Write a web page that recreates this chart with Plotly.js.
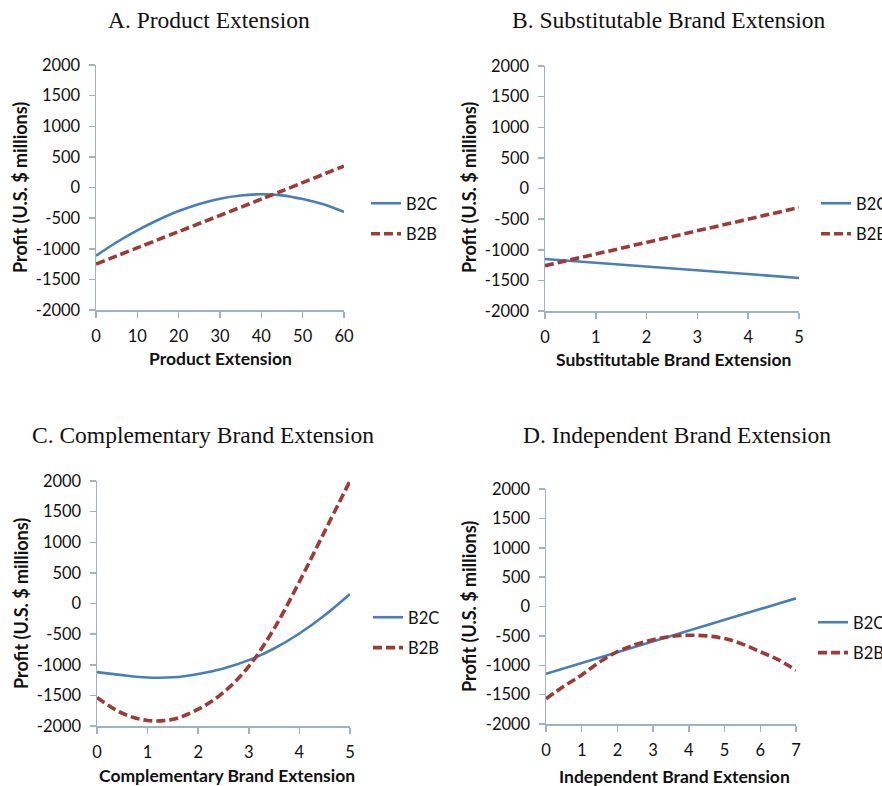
<!DOCTYPE html>
<html>
<head>
<meta charset="utf-8">
<script src="https://cdn.plot.ly/plotly-3.0.1.min.js"></script>
<style>html,body{margin:0;padding:0;background:#fff;} #chart{width:882px;height:786px;}</style>
</head>
<body>
<div id="chart"></div>
<script>
// ---- data ----
const seriesNames = ["B2C", "B2B"];
const panelTitles = ["A. Product Extension", "B. Substitutable Brand Extension",
                     "C. Complementary Brand Extension", "D. Independent Brand Extension"];
const xTitles = ["Product Extension", "Substitutable Brand Extension",
                 "Complementary Brand Extension", "Independent Brand Extension"];
const yTitle = "Profit (U.S. $ millions)";

const yTickVals = [-2000, -1500, -1000, -500, 0, 500, 1000, 1500, 2000];
const yTickText = ["-2000", "-1500", "-1000", "-500", "0", "500", "1000", "1500", "2000"];

// A. Product Extension
const aX    = [0, 5, 10, 15, 20, 25, 30, 35, 40, 45, 50, 55, 60];
const aB2C  = [-1115, -894, -700, -531, -385, -268, -182, -130, -110, -128, -188, -275, -400];
const aXb   = [0, 20, 40, 60];
const aB2B  = [-1250, -720, -190, 350];
const aTicks = [0, 10, 20, 30, 40, 50, 60];

// B. Substitutable Brand Extension
const bX    = [0, 5];
const bB2C  = [-1150, -1460];
const bB2B  = [-1260, -310];
const bTicks = [0, 1, 2, 3, 4, 5];

// C. Complementary Brand Extension
const cX    = [0, 0.5, 1, 1.5, 2, 2.5, 3, 3.5, 4, 4.5, 5];
const cB2C  = [-1120, -1170, -1208, -1205, -1150, -1060, -925, -735, -490, -192, 155];
const cB2B  = [-1534, -1792, -1910, -1890, -1726, -1452, -1025, -411, 356, 1178, 2000];
const cTicks = [0, 1, 2, 3, 4, 5];

// D. Independent Brand Extension
const dX    = [0, 7];
const dB2C  = [-1145, 140];
const dXb   = [0, 0.5, 1, 1.5, 2, 2.5, 3, 3.5, 4, 4.5, 5, 5.5, 6, 6.5, 7];
const dB2B  = [-1570, -1358, -1165, -945, -770, -648, -565, -510, -490, -500, -545, -640, -770, -905, -1084];
const dTicks = [0, 1, 2, 3, 4, 5, 6, 7];

// ---- styling ----
const W = 882, H = 786;
const BLUE = "#4A7EBB", RED = "#9E3B37", AXIS = "#9FB3C6";
const SANS = "Lato, 'Open Sans', sans-serif";
const SERIF = "'Liberation Serif', 'DejaVu Serif', serif";

// panel pixel boxes [left, right, top, bottom]
const boxes = [[96, 344, 65, 310], [545, 799, 66, 311], [97, 350, 481, 726], [546, 796, 489, 724]];
const xs = [[aX, aXb], [bX, bX], [cX, cX], [dX, dXb]];
const ys = [[aB2C, aB2B], [bB2C, bB2B], [cB2C, cB2B], [dB2C, dB2B]];
const ticks = [aTicks, bTicks, cTicks, dTicks];
const xRanges = [[0, 60], [0, 5], [0, 5], [0, 7]];
const legendPos = [[366, 186], [816, 186], [368, 600], [813, 605]];
const titlePos = [[209, 20], [669, 20], [203, 435], [677, 435]];
const xTitlePos = [[221, 358], [673, 359], [227, 775], [674, 776]];
const yTitlePos = [[20, 188], [469, 188], [21, 604], [469, 607]];

const traces = [];
const layout = {
  width: W, height: H,
  margin: {l: 0, r: 0, t: 0, b: 0, pad: 0, autoexpand: false},
  paper_bgcolor: "#ffffff",
  plot_bgcolor: "rgba(0,0,0,0)",
  showlegend: true,
  annotations: [],
  font: {family: SANS, size: 16, color: "#111"}
};

for (let i = 0; i < 4; i++) {
  const n = i === 0 ? "" : String(i + 1);
  const legendId = "legend" + n;
  const [l, r, t, b] = boxes[i];
  for (let s = 0; s < 2; s++) {
    traces.push({
      type: "scatter", mode: "lines",
      x: xs[i][s], y: ys[i][s],
      name: seriesNames[s],
      xaxis: "x" + n, yaxis: "y" + n,
      legend: legendId,
      legendgroup: "g" + i + s,
      line: s === 0 ? {color: BLUE, width: 2.6, shape: "spline"}
                    : {color: RED, width: 3.6, dash: "9px,4px", shape: "spline"},
      hoverinfo: "skip"
    });
  }
  layout["xaxis" + n] = {
    domain: [l / W, r / W], anchor: "y" + n,
    range: xRanges[i], tickvals: ticks[i],
    showgrid: false, zeroline: false, showline: true,
    linecolor: AXIS, linewidth: 1.5,
    ticks: "outside", ticklen: 6, tickcolor: AXIS, tickwidth: 1.5,
    ticklabelstandoff: 5,
    tickfont: {family: SANS, size: 16.5, color: "#111"},
    fixedrange: true
  };
  layout["yaxis" + n] = {
    domain: [1 - b / H, 1 - t / H], anchor: "x" + n,
    range: [-2000, 2000], tickvals: yTickVals, ticktext: yTickText,
    showgrid: false, zeroline: false, showline: true,
    linecolor: AXIS, linewidth: 1.5,
    ticks: "outside", ticklen: 6, tickcolor: AXIS, tickwidth: 1.5,
    ticklabelstandoff: 5,
    tickfont: {family: SANS, size: 16.5, color: "#111"},
    fixedrange: true
  };
  layout[legendId] = {
    x: legendPos[i][0] / W, y: 1 - legendPos[i][1] / H,
    xanchor: "left", yanchor: "top",
    bgcolor: "rgba(0,0,0,0)", borderwidth: 0,
    font: {family: SANS, size: 16.5, color: "#111"},
    itemwidth: 30, tracegroupgap: 6, traceorder: "grouped"
  };
  layout.annotations.push({
    text: panelTitles[i], xref: "paper", yref: "paper",
    x: titlePos[i][0] / W, y: 1 - titlePos[i][1] / H,
    xanchor: "center", yanchor: "middle", showarrow: false,
    font: {family: SERIF, size: 23.5, color: "#111"}
  });
  layout.annotations.push({
    text: "<b>" + xTitles[i] + "</b>", xref: "paper", yref: "paper",
    x: xTitlePos[i][0] / W, y: 1 - xTitlePos[i][1] / H,
    xanchor: "center", yanchor: "middle", showarrow: false,
    font: {family: SANS, size: 17.5, color: "#111"}
  });
  layout.annotations.push({
    text: "<b>" + yTitle + "</b>", xref: "paper", yref: "paper",
    x: yTitlePos[i][0] / W, y: 1 - yTitlePos[i][1] / H,
    xanchor: "center", yanchor: "middle", showarrow: false, textangle: -90,
    font: {family: SANS, size: 18, color: "#111"}
  });
}

Plotly.newPlot("chart", traces, layout, {staticPlot: true, displayModeBar: false});
</script>
</body>
</html>
